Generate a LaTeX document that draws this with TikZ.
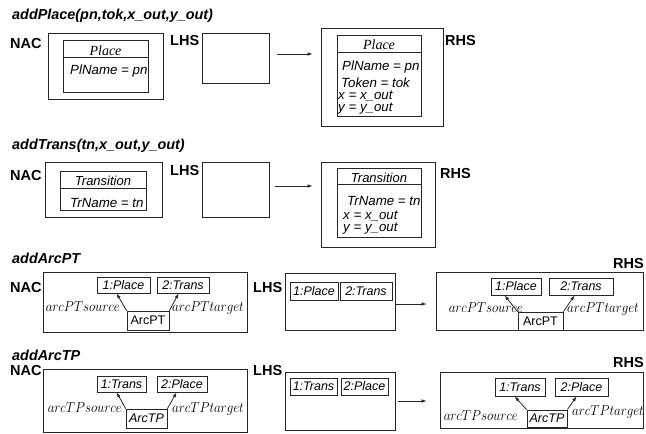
\documentclass[tikz,border=0pt]{standalone}
\usepackage{fontspec}
\setmainfont{Liberation Sans}
\newfontfamily\serfam{Liberation Serif}
\usetikzlibrary{arrows.meta,calc}
\newcommand{\rlab}[1]{\scalebox{0.9}[1]{$#1$}}
\tikzset{
 bx/.style={draw=black!85, line width=0.8pt, inner sep=0pt},
 ttl/.style={font=\fontsize{14.4}{14.4}\selectfont\bfseries\itshape, anchor=base west, inner sep=0pt},
 lbl/.style={font=\fontsize{14.5}{14.5}\selectfont\bfseries, anchor=base west, inner sep=0pt},
 attr/.style={font=\fontsize{13.3}{13.3}\selectfont\itshape, anchor=base west, inner sep=0pt},
 cls/.style={font=\fontsize{14}{14}\selectfont\serfam\itshape, anchor=base, inner sep=0pt},
 clss/.style={font=\fontsize{13}{13}\selectfont\itshape, anchor=base, inner sep=0pt},
 obj/.style={bx, font=\fontsize{12.5}{12.5}\selectfont\itshape},
 objup/.style={bx, font=\fontsize{12.5}{12.5}\selectfont},
 rel/.style={font=\fontsize{13.4}{13.4}\selectfont, inner sep=0pt},
 arr/.style={-{Latex[length=5pt,width=3.5pt]}, line width=0.6pt, draw=black!85},
 arcl/.style={-{Latex[length=5pt,width=3.5pt]}, line width=0.8pt, draw=black!85},
}
\begin{document}
\begin{tikzpicture}[x=1pt,y=-1pt]
\useasboundingbox (0,0) rectangle (646,434);
% ---------- Row 1 : addPlace
\node[ttl] (t1) at (12,19) {addPlace(pn,tok,x\_out,y\_out)};
\node[lbl] (nacl1) at (10,48) {NAC};
\node[bx, minimum width=115pt, minimum height=66pt] (nac1) at (105.5,66) {};
\node[bx, minimum width=85pt, minimum height=52pt] (pl1) at (105.5,66) {};
\draw[bx] (pl1.west |- 0,57) -- (pl1.east |- 0,57);
\node[cls] (pl1n) at (105.5,55) {Place};
\node[attr] (pl1a) at (70,74) {PlName = pn};
\node[lbl] (lhsl1) at (170,45.5) {LHS};
\node[bx, minimum width=67pt, minimum height=50pt] (lhs1) at (235.5,58) {};
\node[bx, minimum width=122pt, minimum height=98pt] (rhs1) at (382,77) {};
\node[bx, minimum width=84pt, minimum height=81pt] (plr1) at (379,75.5) {};
\draw[bx] (plr1.west |- 0,52) -- (plr1.east |- 0,52);
\node[cls] (plr1n) at (379,49) {Place};
\node[attr] (plr1a) at (342,70) {PlName = pn};
\node[attr] (plr1b) at (341,87) {Token = tok};
\node[attr] (plr1c) at (338,99) {x = x\_out};
\node[attr] (plr1d) at (338,111) {y = y\_out};
\node[lbl] (rhsl1) at (445,45) {RHS};
\draw[arr, shorten <=8pt, shorten >=8pt] (lhs1.east |- 0,54) -- (rhs1.west |- 0,54);
% ---------- Row 2 : addTrans
\node[ttl] (t2) at (12,149) {addTrans(tn,x\_out,y\_out)};
\node[lbl] (nacl2) at (10,180) {NAC};
\node[bx, minimum width=117pt, minimum height=55pt] (nac2) at (103.5,189.5) {};
\node[bx, minimum width=86pt, minimum height=39pt] (tr2) at (103,190.5) {};
\draw[bx] (tr2.west |- 0,188) -- (tr2.east |- 0,188);
\node[clss] (tr2n) at (103,185) {Transition};
\node[attr] (tr2a) at (70,207) {TrName = tn};
\node[lbl] (lhsl2) at (170,175) {LHS};
\node[bx, minimum width=67pt, minimum height=55pt] (lhs2) at (235.5,189.5) {};
\node[bx, minimum width=114pt, minimum height=85pt] (rhs2) at (378,204.5) {};
\node[bx, minimum width=84pt, minimum height=69pt] (trr2) at (379,202.5) {};
\draw[bx] (trr2.west |- 0,184) -- (trr2.east |- 0,184);
\node[clss] (trr2n) at (379,182) {Transition};
\node[attr] (trr2a) at (347,205) {TrName = tn};
\node[attr] (trr2b) at (343,219.5) {x = x\_out};
\node[attr] (trr2c) at (343,231.5) {y = y\_out};
\node[lbl] (rhsl2) at (440,178) {RHS};
\draw[arr, shorten <=6pt, shorten >=8pt] (lhs2.east |- 0,186) -- (rhs2.west |- 0,186);
% ---------- Row 3 : addArcPT
\node[ttl] (t3) at (12,263) {addArcPT};
\node[lbl] (nacl3) at (10,292) {NAC};
\node[bx, minimum width=204pt, minimum height=60pt] (nac3) at (145,302) {};
\node[obj, minimum width=53pt, minimum height=16pt] (p3a) at (123.5,285) {1:Place};
\node[obj, minimum width=52pt, minimum height=16pt] (p3b) at (183,285) {2:Trans};
\node[objup, minimum width=42pt, minimum height=19pt] (a3) at (148,320.5) {ArcPT};
\node[rel, anchor=base east] (s3) at (120,311.5) {\rlab{arcPTsource}};
\node[rel, anchor=base west] (g3) at (172,311.5) {\rlab{arcPTtarget}};
\draw[arcl] (a3.north west) -- ([xshift=20pt]p3a.south west);
\draw[arcl] (a3.north east) -- ([xshift=22pt]p3b.south west);
\node[lbl] (lhsl3) at (253,292) {LHS};
\node[bx, minimum width=110pt, minimum height=57pt] (lhs3) at (340,301.5) {};
\node[obj, minimum width=48pt, minimum height=18pt] (l3a) at (314,291) {1:Place};
\node[obj, minimum width=52pt, minimum height=18pt] (l3b) at (366,291) {2:Trans};
\node[bx, minimum width=207pt, minimum height=58pt] (rhs3) at (539.5,301) {};
\node[obj, minimum width=50pt, minimum height=17pt] (r3a) at (516,286.5) {1:Place};
\node[obj, minimum width=64pt, minimum height=17pt] (r3b) at (581,286.5) {2:Trans};
\node[objup, minimum width=45pt, minimum height=18pt] (ra3) at (540.5,321) {ArcPT};
\node[rel, anchor=base east] (rs3) at (523,312) {\rlab{arcPTsource}};
\node[rel, anchor=base west] (rg3) at (567,312) {\rlab{arcPTtarget}};
\draw[arcl] (ra3.north west) -- ([xshift=14pt]r3a.south west);
\draw[arcl] (ra3.north east) -- ([xshift=26pt]r3b.south west);
\node[lbl] (rhsl3) at (613,268) {RHS};
\draw[arr, shorten >=9pt] (lhs3.east |- 0,304) -- (rhs3.west |- 0,304);
% ---------- Row 4 : addArcTP
\node[ttl] (t4) at (12,360) {addArcTP};
\node[lbl] (nacl4) at (10,375) {NAC};
\node[bx, minimum width=204pt, minimum height=63pt] (nac4) at (145,400.5) {};
\node[obj, minimum width=49pt, minimum height=16pt] (n4a) at (121.5,384) {1:Trans};
\node[obj, minimum width=50pt, minimum height=16pt] (n4b) at (182,384) {2:Place};
\node[obj, minimum width=41pt, minimum height=19pt] (na4) at (146.5,418.5) {ArcTP};
\node[rel, anchor=base east] (s4) at (122,412) {\rlab{arcTPsource}};
\node[rel, anchor=base west] (g4) at (172,412) {\rlab{arcTPtarget}};
\draw[arcl] (na4.north west) -- ([xshift=20pt]n4a.south west);
\draw[arcl] (na4.north east) -- ([xshift=20pt]n4b.south west);
\node[lbl] (lhsl4) at (253,375) {LHS};
\node[bx, minimum width=110pt, minimum height=58pt] (lhs4) at (340,401) {};
\node[obj, minimum width=47pt, minimum height=17pt] (l4a) at (313.5,386.5) {1:Trans};
\node[obj, minimum width=47pt, minimum height=17pt] (l4b) at (364.5,386.5) {2:Place};
\node[bx, minimum width=203pt, minimum height=56pt] (rhs4) at (541.5,400) {};
\node[obj, minimum width=50pt, minimum height=18pt] (r4a) at (520,387) {1:Trans};
\node[obj, minimum width=53pt, minimum height=18pt] (r4b) at (581.5,387) {2:Place};
\node[obj, minimum width=40pt, minimum height=17pt] (ra4) at (547,418.5) {ArcTP};
\node[rel, anchor=base east] (rs4) at (518,420) {\rlab{arcTPsource}};
\node[rel, anchor=base west] (rg4) at (572,415) {\rlab{arcTPtarget}};
\draw[arcl] (ra4.north west) -- ([xshift=20pt]r4a.south west);
\draw[arcl] (ra4.north east) -- ([xshift=22pt]r4b.south west);
\node[lbl] (rhsl4) at (613,367) {RHS};
\draw[arr, shorten <=3pt, shorten >=13pt] (lhs4.east |- 0,401) -- (rhs4.west |- 0,401);
\end{tikzpicture}
\end{document}
